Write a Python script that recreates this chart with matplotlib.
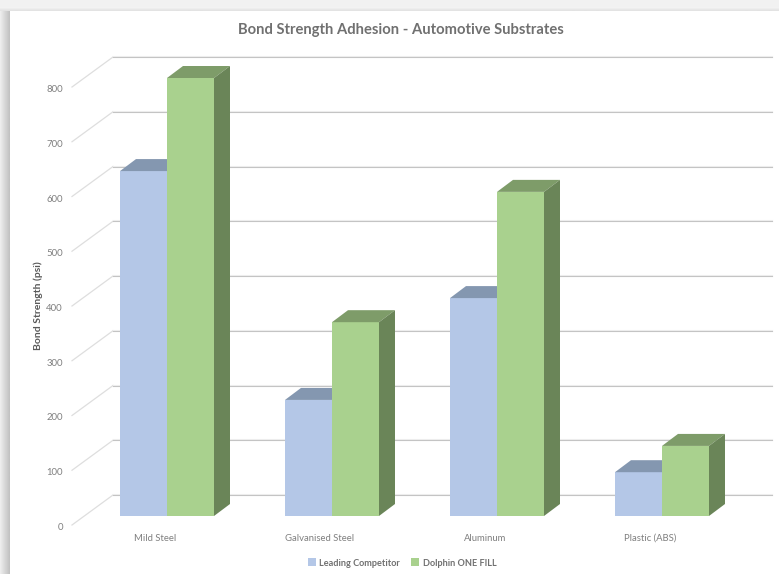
import matplotlib
matplotlib.use("Agg")
import matplotlib.pyplot as plt
import numpy as np
from matplotlib.patches import Polygon, Rectangle
from matplotlib.transforms import ScaledTranslation

plt.rcParams['font.family'] = ['Lato', 'DejaVu Sans']

categories = ["Mild Steel", "Galvanised Steel", "Aluminum", "Plastic (ABS)"]
competitor = [630, 212, 398, 80]
dolphin = [800, 354, 592, 128]
series_names = ["Leading Competitor", "Dolphin ONE FILL"]
y_ticks = [0, 100, 200, 300, 400, 500, 600, 700, 800]
title = "Bond Strength Adhesion - Automotive Substrates"
y_label = "Bond Strength (psi)"

W, H = 779, 574
fig = plt.figure(figsize=(W / 100, H / 100), dpi=100, facecolor="#f1f1f1")

# page / card background
bg = fig.add_axes([0, 0, 1, 1], zorder=0)
bg.set_xlim(0, W); bg.set_ylim(H, 0); bg.axis("off")
bg.imshow(np.linspace(0.93, 0.76, 10).reshape(1, -1), extent=(0, 10, H, 11), cmap="gray",
          vmin=0, vmax=1, aspect="auto", interpolation="bilinear")
bg.imshow(np.linspace(0.95, 0.89, 4).reshape(-1, 1), extent=(0, W, 11, 7), cmap="gray",
          vmin=0, vmax=1, aspect="auto", interpolation="bilinear")
bg.add_patch(Rectangle((10, 11), W - 10, H - 11, fc="white", ec="none"))
bg.set_xlim(0, W); bg.set_ylim(H, 0)

# plot axes: left/right/bottom/top in pixels
PX_L, PX_R, PX_B, PX_T = 72, 772, 525, 57
PX_PER_VAL = 0.5475
PX_PER_CAT = 165.0
ax = fig.add_axes([PX_L / W, 1 - PX_B / H, (PX_R - PX_L) / W, (PX_B - PX_T) / H], zorder=1)
ax.patch.set_alpha(0)
x0 = 167.0  # pixel of first category
ax.set_xlim((PX_L - x0) / PX_PER_CAT, (PX_R - x0) / PX_PER_CAT)
ax.set_ylim(0, (PX_B - PX_T) / PX_PER_VAL)
for s in ax.spines.values():
    s.set_visible(False)

def dx(px):
    return px / PX_PER_CAT

def dy(px):
    return px / PX_PER_VAL

xl, xr = ax.get_xlim()
grid_c = "#c4c4c4"
wall_x = xl + dx(41)
for v in y_ticks:
    ax.plot([xl, wall_x], [v, v + dy(30)], color="#dedede", lw=0.9, clip_on=False, zorder=1)
    ax.plot([wall_x, xr], [v + dy(30) + dy(1), v + dy(30) + dy(1)], color="#f0f0f0", lw=0.8, clip_on=False, zorder=1)
    ax.plot([wall_x, xr], [v + dy(30), v + dy(30)], color=grid_c, lw=0.8, clip_on=False, zorder=1)

base = dy(9)
bw = 47 / PX_PER_CAT
ox, oy = dx(16), dy(12)
x = np.arange(len(categories))
styles = [(competitor, "#b4c7e7", "#8497b0", "#7f90a8", -bw / 2),
          (dolphin, "#a9d18e", "#7e9c69", "#6a8558", bw / 2)]
for vals, front, top, side, off in styles:
    bx = x + off
    ax.bar(bx, vals, width=bw, bottom=base, color=front, edgecolor="none", zorder=3 if off > 0 else 2, label="_")
    for xi, v in zip(bx, vals):
        l, r = xi - bw / 2, xi + bw / 2
        yt = base + v
        z = 3 if off > 0 else 2
        ax.add_patch(Polygon([(l, yt), (r, yt), (r + ox, yt + oy), (l + ox, yt + oy)], fc=top, ec="none", zorder=z))
        ax.add_patch(Polygon([(r, base), (r + ox, base + oy), (r + ox, yt + oy), (r, yt)], fc=side, ec="none", zorder=z))

ax.set_yticks(y_ticks)
ax.set_yticklabels([str(v) for v in y_ticks], color="#7f7f7f", fontsize=6.9)
ax.tick_params(axis="y", length=0, pad=6.5)
shift = ScaledTranslation(0, -1.5 / 100, fig.dpi_scale_trans)
for lab in ax.get_yticklabels():
    lab.set_transform(lab.get_transform() + shift)
ax.set_xticks(x - dx(12))
ax.set_xticklabels(categories, color="#7f7f7f", fontsize=6.8)
ax.tick_params(axis="x", length=0, pad=6.5)

fig.text(401 / W, 1 - 30 / H, title, ha="center", va="center", fontsize=10.6, fontweight="bold", color="#707070")
fig.text(38 / W, 1 - 306 / H, y_label, rotation=90, ha="center", va="center", fontsize=7.5, fontweight="bold", color="#595959")

handles = [Rectangle((0, 0), 1, 1, fc="#b4c7e7"), Rectangle((0, 0), 1, 1, fc="#a9d18e")]
fig.legend(handles, series_names, loc="center", bbox_to_anchor=(402 / W, 1 - 563 / H), ncol=2, frameon=False,
           prop={"size": 6.6, "weight": "bold"}, labelcolor="#707070", handlelength=0.95, handleheight=0.95,
           handletextpad=0.35, columnspacing=1.15)

fig.savefig("out.png", dpi=100)
